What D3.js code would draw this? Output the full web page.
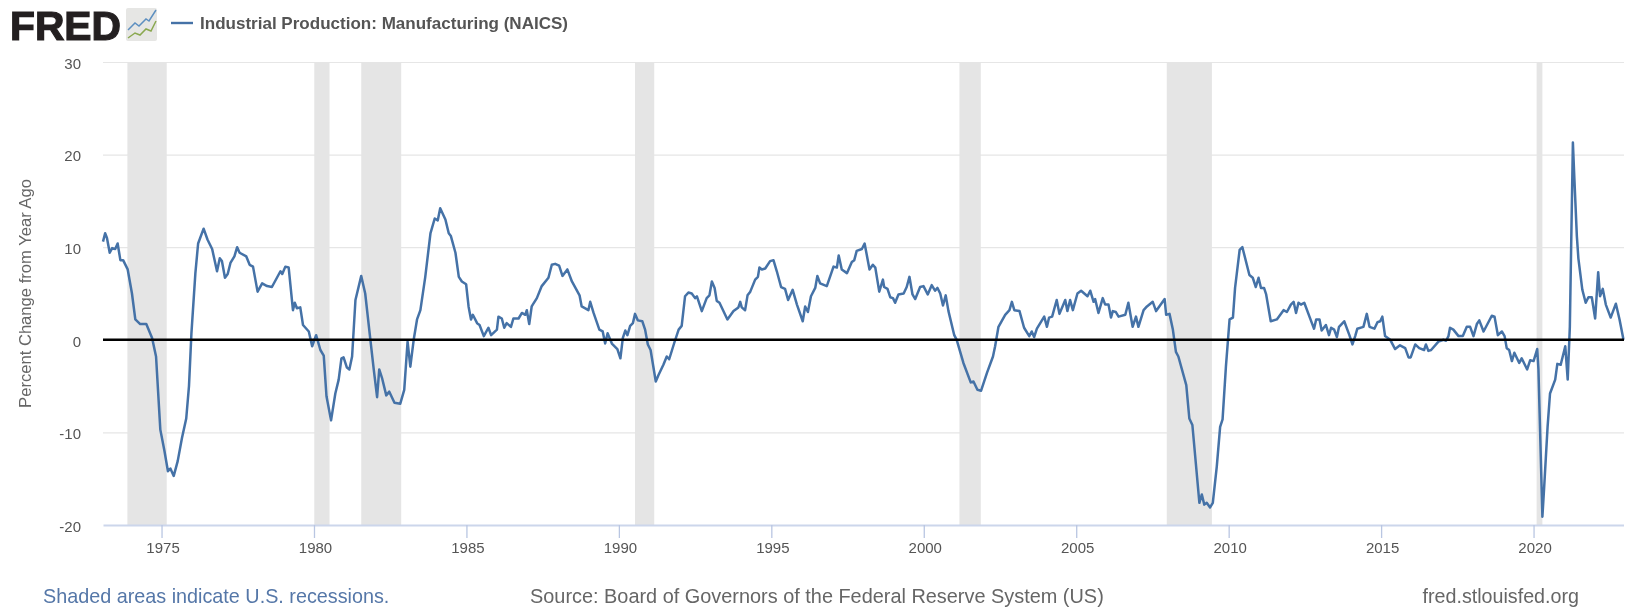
<!DOCTYPE html>
<html><head><meta charset="utf-8">
<script src="https://cdn.jsdelivr.net/npm/d3@7"></script>
<style>html,body{margin:0;padding:0;background:#fff}svg{display:block;filter:blur(0.45px)}text{font-family:"Liberation Sans",Arial,sans-serif}</style>
</head><body><svg id="c" width="1628" height="608"></svg>
<script>
const years=[1973.08,.15,.21,.30,.38,.48,.56,.65,.74,.89,1974.03,.14,.30,.50,.69,.82,.96,1975.09,.21,.29,.40,.53,.67,.81,.90,.98,1976.11,.20,.38,.51,.66,.82,.91,.98,1977.08,.17,.26,.39,.48,.56,.78,.89,1978.00,.15,.30,.46,.62,.90,.96,1979.06,.17,.31,.37,.44,.55,.64,.83,.94,1980.07,.21,.32,.41,.56,.70,.81,.90,.97,1981.08,.16,.25,.36,.55,.68,.85,.96,1982.07,.14,.23,.37,.47,.64,.83,.96,1983.07,.16,.27,.38,.49,.65,.82,.96,1984.06,.14,.31,.42,.49,.64,.75,.85,.99,1985.07,.15,.21,.35,.43,.57,.72,.81,
1986.0,.05,.16,.24,.32,.46,.54,.71,.82,.93,.98,1987.06,.14,.31,.47,.69,.80,.91,1988.04,.15,.31,.46,.71,.78,1989.0,.06,.17,.36,.47,.55,.63,.77,.95,1990.05,.13,.21,.28,.37,.46,.53,.62,.77,.86,.95,1991.04,.21,.30,.46,.57,.65,.81,.96,1992.06,.17,.28,.39,.50,.56,.72,.88,.97,1993.05,.14,.21,.30,.56,.76,.92,.98,1994.03,.14,.22,.31,.47,.56,.61,.69,.80,.96,1995.07,.18,.32,.45,.55,.70,.84,1996.03,.11,.20,.30,.44,.51,.60,.82,1997.04,.15,.21,.31,.48,.64,.72,.80,.97,1998.06,.22,.33,.41,.54,
.66,.70,.81,.90,.99,1999.06,.17,.34,.44,.53,.63,.72,.88,.99,2000.13,.26,.37,.45,.54,.63,.72,.81,2001.0,.08,.30,.54,.63,.76,.88,2002.07,.27,.34,.45,.67,.81,.89,.97,2003.14,.29,.46,.54,.62,.71,.95,2004.04,.11,.21,.36,.45,.64,.71,.80,.89,2005.04,.16,.37,.46,.57,.62,.73,.87,.95,2006.06,.14,.20,.30,.39,.61,.71,.85,.96,2007.04,.21,.32,.51,.62,.90,.95,2008.06,.17,.27,.35,.61,.71,.81,2009.04,.12,.20,.28,.39,.48,.61,.72,.80,.91,2010.03,.14,.21,.36,.45,.68,.79,.89,.98,2011.06,.16,.23,.38,.58,.80,.91,
2012.04,.13,.21,.29,.37,.48,.73,.80,.87,.98,2013.05,.19,.29,.36,.46,.55,.62,.79,.96,2014.06,.15,.22,.42,.53,.62,.78,.88,.97,2015.04,.13,.30,.46,.62,.79,.90,.97,2016.12,.25,.41,.47,.55,.64,.88,2017.05,.13,.21,.26,.37,.54,.68,.81,.92,2018.03,.14,.22,.36,.63,.72,.83,.96,2019.05,.12,.20,.29,.37,.53,.61,.79,.89,2020.0,.12,.16,.29,.35,.46,.54,.71,.78,.89,2021.04,.12,.19,.23,.29,.34,.42,.47,.60,.71,.80,.91,2022.02,.12,.18,.27,.37,.53,.70,.82,.95];
const pctChange=[10.6,11.5,11.0,9.4,9.9,9.8,10.4,8.6,8.6,7.6,5.0,2.2,1.7,1.7,0.2,-1.8,-9.7,-11.9,-14.2,-13.9,-14.7,-13.1,-10.6,-8.5,-5.0,0.7,7.2,10.4,12.0,10.8,9.8,7.4,8.8,8.5,6.7,7.1,8.3,9.0,10.0,9.4,9.0,8.1,7.9,5.2,6.1,5.8,5.7,7.4,7.1,7.9,7.8,3.2,4.0,3.4,3.5,1.6,0.9,-0.7,0.5,-1.1,-1.7,-6.1,-8.7,-5.8,-4.3,-2.0,-1.9,-3.0,-3.2,-1.8,4.3,6.9,5.0,0,-3.2,-6.2,-3.2,-4.1,-6.0,-5.6,-6.8,-6.9,-5.4,-0.2,-2.9,0,2.2,3.2,6.8,11.5,13.1,12.9,14.2,13.0,11.5,11.2,9.4,6.8,6.3,6.0,3.6,2.2,2.7,1.8,1.6,0.4,1.3,0.5,
1.1,2.5,2.3,1.3,1.8,1.4,2.3,2.3,2.9,2.7,3.2,1.7,3.6,4.5,5.8,6.7,8.1,8.2,8.0,6.9,7.6,6.3,4.8,3.6,3.2,4.1,2.9,1.1,0.9,-0.4,0.7,-0.4,-1.0,-2.0,0.2,1.0,0.5,1.5,1.8,2.8,2.1,2.0,1.1,-0.5,-1.1,-4.5,-3.8,-2.7,-1.8,-2.1,-0.4,1.1,1.5,4.7,5.1,5.0,4.5,4.7,3.1,4.5,4.8,6.3,5.6,4.2,4.0,2.2,3.1,3.5,4.1,3.5,3.2,4.8,5.2,6.5,6.8,7.8,7.6,7.7,8.5,8.6,7.4,5.7,5.5,4.3,5.4,3.8,2.0,3.6,3.0,4.7,5.6,6.9,6.1,5.8,7.9,7.8,9.1,7.6,7.2,8.4,8.6,9.6,9.8,10.4,7.6,8.1,7.8,5.2,
6.5,5.7,5.5,4.6,4.5,4.0,4.9,5.0,5.7,6.8,4.9,4.4,5.7,5.8,4.9,5.9,5.3,5.6,5.0,3.7,4.8,3.1,0.5,0,-2.5,-4.6,-4.5,-5.4,-5.5,-3.6,-1.8,-0.7,1.4,2.7,3.2,4.1,3.2,3.1,1.3,0.4,0.9,0.3,1.2,2.5,1.4,2.4,2.5,4.3,2.8,4.3,3.1,4.3,3.2,5.0,5.3,4.7,5.3,4.1,4.4,2.9,4.5,3.8,3.8,2.4,3.1,3.0,2.5,2.7,4.0,1.4,2.5,1.4,3.2,3.6,4.1,3.1,4.4,2.7,2.8,1.1,-1.3,-1.8,-4.9,-8.5,-9.2,-17.6,-16.7,-17.8,-17.6,-18.1,-17.6,-13.7,-9.4,-8.6,-2.9,2.2,2.4,5.6,9.7,10.0,7.0,6.7,5.7,6.7,5.6,5.6,4.9,2.0,2.2,3.2,3.0,
3.8,4.1,2.9,4.0,3.8,4.0,1.8,1.2,2.2,2.2,1.0,1.6,0.5,1.3,1.1,0.3,1.4,2.0,0.5,-0.5,0.4,1.2,1.4,2.8,1.4,1.2,1.9,2.0,2.5,0.4,0,-1.0,-0.6,-0.9,-1.9,-1.9,-0.5,-0.9,-1.1,-0.5,-1.2,-1.1,-0.2,0,-0.1,0.4,1.3,1.1,0.4,0.4,1.4,1.4,0.4,1.7,2.1,0.9,2.6,2.5,0.5,0.9,0.4,-0.9,-1.1,-2.3,-1.4,-2.5,-2.0,-3.2,-2.2,-2.3,-1.0,-3.2,-19.1,-15.8,-9.4,-5.8,-4.3,-2.6,-2.7,-0.7,-4.3,1.4,9.4,21.3,17.3,11.2,8.8,5.4,4.0,4.6,4.6,2.3,7.3,4.7,5.5,3.8,2.4,3.9,2.2,0];
const recessionStart=[1973.88,1980.01,1981.55,1990.53,2001.17,2007.97,2020.10];
const recessionEnd=[1975.17,1980.51,1982.86,1991.16,2001.87,2009.45,2020.29];
const yTicks=[-20,-10,0,10,20,30];
const xTicks=[1975,1980,1985,1990,1995,2000,2005,2010,2015,2020];
const seriesName="Industrial Production: Manufacturing (NAICS)";
const yTitle="Percent Change from Year Ago";

// expand shorthand fractional years (".15") to full years
let cur=0; const t=years.map(v=>{if(v>=1){cur=Math.floor(v);return v;}return cur+v;});

const svg=d3.select("#c");
const x=d3.scaleLinear().domain([1973.08,2022.95]).range([103,1623.5]);
const y=d3.scaleLinear().domain([-20,30]).range([525,62]);
const font='"Liberation Sans",Arial,sans-serif';

// grid
svg.append("g").selectAll("line").data(yTicks.filter(d=>d>-20)).join("line")
 .attr("x1",103).attr("x2",1624).attr("y1",d=>y(d)+.5).attr("y2",d=>y(d)+.5)
 .attr("stroke","#e6e6e6").attr("stroke-width",1.2);
// recessions
svg.append("g").selectAll("rect").data(recessionStart).join("rect")
 .attr("x",d=>x(d)).attr("width",(d,i)=>x(recessionEnd[i])-x(d))
 .attr("y",y(30)).attr("height",y(-20)-y(30)).attr("fill","#e5e5e5");
// x axis
const xa=svg.append("g").attr("transform",`translate(0,${y(-20)})`)
 .call(d3.axisBottom(x).tickValues(xTicks).tickFormat(d3.format("d")).tickSizeInner(13).tickSizeOuter(0).tickPadding(4));
xa.select(".domain").attr("stroke","#ccd6eb").attr("stroke-width",2);
xa.selectAll(".tick line").attr("stroke","#b9c6e2").attr("stroke-width",1.3);
xa.selectAll("text").attr("fill","#555").attr("font-size",15).attr("font-family",font).attr("dx",1);
// y axis
const ya=svg.append("g").attr("transform","translate(103,0)")
 .call(d3.axisLeft(y).tickValues(yTicks).tickSize(0).tickPadding(22).tickFormat(String));
ya.select(".domain").remove();
ya.selectAll("text").attr("fill","#555").attr("font-size",15).attr("font-family",font).attr("dy","0.42em");
svg.append("text").attr("transform",`translate(30.5,293.5) rotate(-90)`).attr("text-anchor","middle")
 .attr("font-size",16.6).attr("fill","#666").text(yTitle);
// series
const line=d3.line().x((d,i)=>x(t[i])).y((d)=>y(d));
svg.append("path").datum(pctChange).attr("d",line).attr("fill","none")
 .attr("stroke","#4572a7").attr("stroke-width",2.5).attr("stroke-linejoin","round");
// zero line
svg.append("line").attr("x1",103).attr("x2",1624).attr("y1",y(0)).attr("y2",y(0))
 .attr("stroke","#000").attr("stroke-width",2.6);
// header
svg.append("text").attr("x",10).attr("y",40).attr("font-size",40).attr("font-weight","bold").attr("fill","#231f20")
 .attr("stroke","#231f20").attr("stroke-width",1.2).attr("textLength",111).attr("lengthAdjust","spacingAndGlyphs").text("FRED");
const ic=svg.append("g").attr("transform","translate(126,8)");
ic.append("rect").attr("width",31).attr("height",33).attr("rx",2).attr("fill","#e6e6e4");
ic.append("path").attr("d","M2,22 L9,15 L13,18 L20,11 L23,13 L30,2").attr("fill","none").attr("stroke","#5d8fc0").attr("stroke-width",1.5);
ic.append("path").attr("d","M2,30 L9,25 L14,27 L20,21 L25,23 L30,13").attr("fill","none").attr("stroke","#8aa84f").attr("stroke-width",1.5);
svg.append("line").attr("x1",171).attr("x2",193).attr("y1",23).attr("y2",23).attr("stroke","#4572a7").attr("stroke-width",2.4);
svg.append("text").attr("x",200).attr("y",29).attr("font-size",16.5).attr("font-weight","bold").attr("fill","#555")
 .attr("textLength",368).attr("lengthAdjust","spacingAndGlyphs").text(seriesName);
// footer
svg.append("text").attr("x",43).attr("y",602.5).attr("font-size",19.8).attr("fill","#5577a8").text("Shaded areas indicate U.S. recessions.");
svg.append("text").attr("x",530).attr("y",602.5).attr("font-size",19.9).attr("fill","#666").text("Source: Board of Governors of the Federal Reserve System (US)");
svg.append("text").attr("x",1579).attr("y",602.5).attr("text-anchor","end").attr("font-size",19.7).attr("fill","#666").text("fred.stlouisfed.org");
if(t.length!==pctChange.length)console.error("len",t.length,pctChange.length);
</script></body></html>
